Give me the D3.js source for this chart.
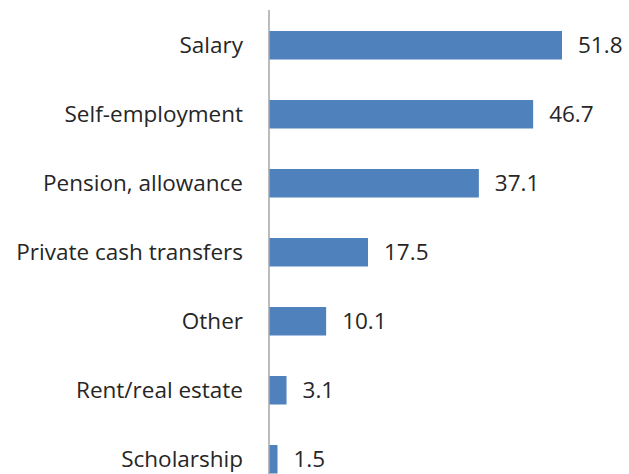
<!DOCTYPE html>
<html>
<head>
<meta charset="utf-8">
<script src="https://cdn.jsdelivr.net/npm/d3@7"></script>
<style>
  html, body { margin: 0; padding: 0; background: #fff; }
  svg { display: block; }
</style>
</head>
<body>
<div id="chart"></div>
<script>
// data
var categories = ["Salary", "Self-employment", "Pension, allowance", "Private cash transfers", "Other", "Rent/real estate", "Scholarship"];
var values = [51.8, 46.7, 37.1, 17.5, 10.1, 3.1, 1.5];

var w = 629,
    h = 474,
    axis_x = 269;

var svg = d3.select("#chart")
    .append("svg")
    .attr("width", w)
    .attr("height", h);

var x = d3.scaleLinear()
    .domain([0, 51.8])
    .range([axis_x, 562]);

var y = d3.scaleBand()
    .domain(categories)
    .range([10.5, 494])
    .paddingInner(0.587)
    .paddingOuter(0.297);

var rows = categories.map(function(c, i) { return { name: c, value: values[i] }; });

// bars
svg.selectAll(".bar")
    .data(rows)
    .enter().append("rect")
    .attr("class", "bar")
    .attr("x", x(0))
    .attr("y", function(d) { return y(d.name); })
    .attr("width", function(d) { return x(d.value) - x(0); })
    .attr("height", y.bandwidth())
    .style("fill", "#4f81bd");

// category axis line
svg.append("line")
    .attr("x1", axis_x)
    .attr("x2", axis_x)
    .attr("y1", 10)
    .attr("y2", h)
    .style("stroke", "#a6a6a6")
    .style("stroke-width", 1.5);

// category labels
svg.selectAll(".cat")
    .data(rows)
    .enter().append("text")
    .attr("class", "cat")
    .attr("x", axis_x - 26)
    .attr("y", function(d) { return y(d.name) + y.bandwidth() / 2; })
    .attr("dy", ".35em")
    .style("text-anchor", "end")
    .style("font-family", "'Open Sans', sans-serif")
    .style("font-size", "22.5px")
    .style("fill", "#262626")
    .text(function(d) { return d.name; });

// value labels
svg.selectAll(".val")
    .data(rows)
    .enter().append("text")
    .attr("class", "val")
    .attr("x", function(d) { return x(d.value) + 16; })
    .attr("y", function(d) { return y(d.name) + y.bandwidth() / 2; })
    .attr("dy", ".35em")
    .style("font-family", "'Open Sans', sans-serif")
    .style("font-size", "22.5px")
    .style("fill", "#262626")
    .text(function(d) { return d.value.toFixed(1); });
</script>
</body>
</html>
